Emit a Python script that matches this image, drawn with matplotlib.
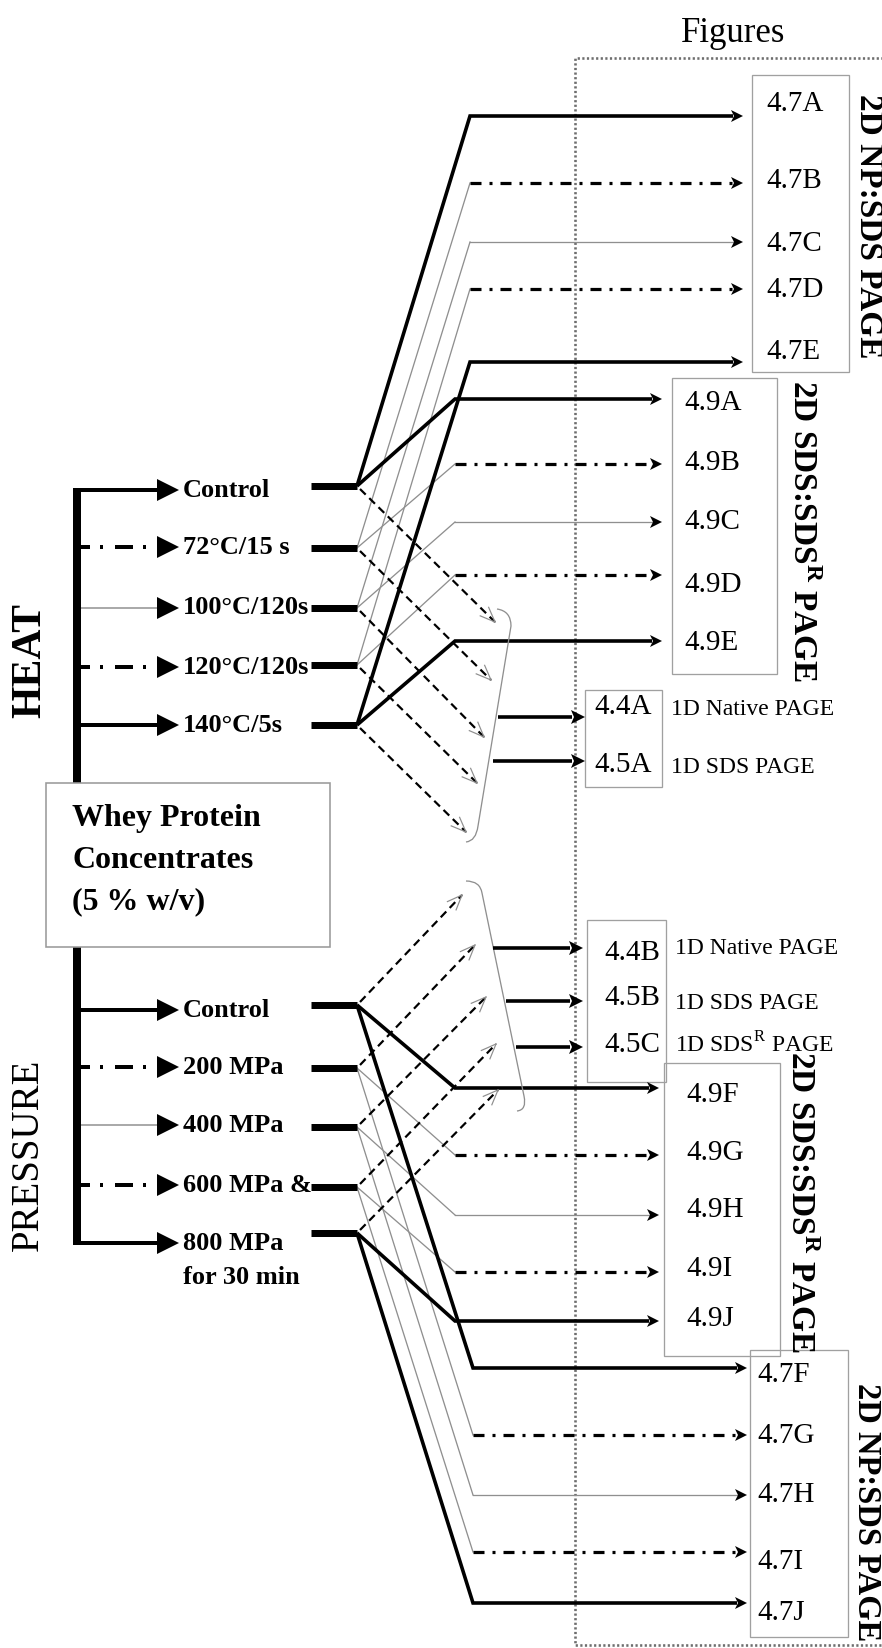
import math
import matplotlib
matplotlib.use('Agg')
import matplotlib.pyplot as plt
from matplotlib.patches import Polygon, Rectangle, PathPatch
from matplotlib.path import Path

plt.rcParams['font.family'] = ['Liberation Serif', 'DejaVu Serif']
plt.rcParams['mathtext.fontset'] = 'custom'
plt.rcParams['mathtext.rm'] = 'Liberation Serif'
plt.rcParams['mathtext.bf'] = 'Liberation Serif:bold'
plt.rcParams['lines.scale_dashes'] = False

# ---------------- data ----------------
title = 'Figures'
material_lines = ['Whey Protein', 'Concentrates', '(5 % w/v)']

heat_title = 'HEAT'
heat_labels = ['Control', '72°C/15 s', '100°C/120s', '120°C/120s', '140°C/5s']
heat_styles = ['thick', 'dashdot', 'thin', 'dashdot', 'thick']
heat_arrow_y = [490, 547, 608, 667, 725]
heat_bar_y = [486, 548, 608, 665, 725]
heat_np_labels = ['4.7A', '4.7B', '4.7C', '4.7D', '4.7E']
heat_np_y = [116, 183, 242, 289, 362]
heat_np_text_y = [104, 181, 244, 290, 352]
heat_sds_labels = ['4.9A', '4.9B', '4.9C', '4.9D', '4.9E']
heat_sds_y = [399, 464, 522, 575, 641]
heat_sds_text_y = [403, 463, 522, 585, 643]
heat_fan_tips = [(495, 622), (491, 680), (484, 737), (477, 783), (466, 832)]
heat_1d_labels = ['4.4A', '4.5A']
heat_1d_names = ['1D Native PAGE', '1D SDS PAGE']
heat_1d_y = [717, 761]
heat_1d_text_y = [707, 765]
heat_1d_start_x = [498, 493]

pressure_title = 'PRESSURE'
pressure_labels = ['Control', '200 MPa', '400 MPa', '600 MPa &', '800 MPa']
pressure_note = 'for 30 min'
pressure_styles = ['thick', 'dashdot', 'thin', 'dashdot', 'thick']
pressure_arrow_y = [1010, 1067, 1125, 1185, 1243]
pressure_bar_y = [1005, 1068, 1127, 1187, 1233]
pressure_sds_labels = ['4.9F', '4.9G', '4.9H', '4.9I', '4.9J']
pressure_sds_y = [1088, 1155, 1215, 1272, 1321]
pressure_sds_text_y = [1095, 1153, 1210, 1269, 1319]
pressure_np_labels = ['4.7F', '4.7G', '4.7H', '4.7I', '4.7J']
pressure_np_y = [1368, 1435, 1495, 1552, 1603]
pressure_np_text_y = [1375, 1436, 1495, 1562, 1613]
pressure_fan_tips = [(462, 895), (475, 945), (486, 997), (496, 1044), (498, 1090)]
pressure_1d_labels = ['4.4B', '4.5B', '4.5C']
pressure_1d_names = ['1D Native PAGE', '1D SDS PAGE', '1D SDS$^{\\mathrm{R}}$ PAGE']
pressure_1d_y = [948, 1001, 1047]
pressure_1d_text_y = [953, 998, 1045]
pressure_1d_name_y = [948, 1003, 1045]
pressure_1d_start_x = [493, 506, 516]

np_group_label = '2D NP:SDS PAGE'
sds_group_label = '2D SDS:SDS$^{\\mathbf{R}}$ PAGE'

# ---------------- figure ----------------
W, H = 882, 1648
PX = 72 / 100.0  # points per pixel
fig = plt.figure(figsize=(W / 100, H / 100), dpi=100)
ax = fig.add_axes([0, 0, 1, 1])
ax.set_xlim(0, W)
ax.set_ylim(H, 0)
ax.axis('off')

GRAY = '#8f8f8f'
BOXC = '#a0a0a0'


def line(xs, ys, kind, z=3):
    if kind == 'thick':
        ax.plot(xs, ys, color='black', lw=3.6 * PX, solid_joinstyle='miter',
                solid_capstyle='butt', zorder=z)
    elif kind == 'thin':
        ax.plot(xs, ys, color=GRAY, lw=1.3 * PX, zorder=z - 1)
    elif kind == 'dashdot':
        ax.plot(xs, ys, color='black', lw=3.2 * PX,
                dashes=(11 * PX, 8 * PX, 3 * PX, 8 * PX), dash_capstyle='butt', zorder=z)
    elif kind == 'dashed':
        ax.plot(xs, ys, color='black', lw=2.2 * PX, dashes=(8 * PX, 5 * PX),
                dash_capstyle='butt', zorder=z)


def head(x, y, L=12, hw=6, notch=3, z=5):
    ax.add_patch(Polygon([(x, y), (x - L, y - hw), (x - L + notch, y), (x - L, y + hw)],
                         closed=True, fc='black', ec='none', zorder=z))


def open_head(sx, sy, tx, ty, L=16, ang=22):
    a = math.atan2(sy - ty, sx - tx)
    for s in (1, -1):
        b = a + s * math.radians(ang)
        ax.plot([tx, tx + L * math.cos(b)], [ty, ty + L * math.sin(b)],
                color=GRAY, lw=1.2 * PX, zorder=4)


def box(x0, y0, x1, y1, z=2, fc='none', ec=BOXC, lw=1.3):
    ax.add_patch(Rectangle((x0, y0), x1 - x0, y1 - y0, fc=fc, ec=ec, lw=lw * PX, zorder=z))


SPINE_X = 77
LEFT_HEAD_TIP = 179
LABEL_X = 183
BAR_X0, JX = 311, 357


def left_branches(labels, styles, arrow_y, bar_y):
    for lab, st, ay, by in zip(labels, styles, arrow_y, bar_y):
        x0, x1 = SPINE_X + 4, LEFT_HEAD_TIP - 20
        if st == 'thick':
            ax.plot([x0, x1], [ay, ay], color='black', lw=4 * PX, solid_capstyle='butt', zorder=3)
        elif st == 'thin':
            ax.plot([x0, x1], [ay, ay], color=GRAY, lw=1.5 * PX, zorder=3)
        else:
            ax.plot([x0, x1 + 2], [ay, ay], color='black', lw=4 * PX,
                    dashes=(9 * PX, 10 * PX, 3 * PX, 12 * PX, 18 * PX, 10 * PX, 3 * PX, 12 * PX),
                    dash_capstyle='butt', zorder=3)
        head(LEFT_HEAD_TIP, ay, L=22, hw=11, notch=0)
        ax.text(LABEL_X, ay, lab, fontsize=19, fontweight='bold', ha='left', va='center', zorder=6)
        ax.plot([BAR_X0, JX], [by, by], color='black', lw=7 * PX, solid_capstyle='butt', zorder=4)


def branch(jy, ty, cx, tip, st):
    if st == 'thick':
        line([JX, cx, tip - 10], [jy, ty, ty], 'thick')
    else:
        line([JX, cx], [jy, ty], 'thin')
        line([cx, tip - 10], [ty, ty], st)
    head(tip, ty)


# dotted "Figures" frame
ax.plot([W + 5, 575, 575, W + 5], [58, 58, 1645, 1645], color='#6e6e6e', lw=2.6 * PX,
        dashes=(2.2 * PX, 2.4 * PX), zorder=1)
ax.text(733, 33, title, fontsize=25, ha='center', va='center')

# spine
ax.plot([SPINE_X, SPINE_X], [heat_arrow_y[0] - 2, pressure_arrow_y[-1] + 2], color='black',
        lw=8 * PX, solid_capstyle='butt', zorder=4)

# material box
box(46, 783, 330, 947, z=6, fc='white', ec='#9a9a9a', lw=1.6)
for k, t in enumerate(material_lines):
    ax.text(72, 818 + 42 * k, t, fontsize=23, fontweight='bold', ha='left', va='center', zorder=7)

ax.text(30, 660, heat_title, fontsize=30, fontweight='bold', rotation=90, ha='center', va='center')
ax.text(28, 1155, pressure_title, fontsize=28, rotation=90, ha='center', va='center')

# ---------------- HEAT ----------------
left_branches(heat_labels, heat_styles, heat_arrow_y, heat_bar_y)
for i, st in enumerate(heat_styles):
    jy = heat_bar_y[i]
    branch(jy, heat_np_y[i], 470, 743, st)
    branch(jy, heat_sds_y[i], 455, 662, st)
    tx, ty = heat_fan_tips[i]
    line([JX + 3, tx], [jy + 3, ty], 'dashed')
    open_head(JX, jy, tx, ty)

box(752, 75, 849, 372)
for lab, ty in zip(heat_np_labels, heat_np_text_y):
    ax.text(766, ty, lab, fontsize=21, ha='left', va='center')
box(672, 378, 777, 674)
for lab, ty in zip(heat_sds_labels, heat_sds_text_y):
    ax.text(684, ty, lab, fontsize=21, ha='left', va='center')
ax.text(868, 226, np_group_label, fontsize=24, fontweight='bold', rotation=-90,
        ha='center', va='center')
ax.text(802, 531, sds_group_label, fontsize=24, fontweight='bold', rotation=-90,
        ha='center', va='center')

# heat bracket
hb = Path([(497, 609), (511, 611), (511, 626), (478, 826), (476, 841), (466, 842)],
          [Path.MOVETO, Path.CURVE3, Path.CURVE3, Path.LINETO, Path.CURVE3, Path.CURVE3])
ax.add_patch(PathPatch(hb, fc='none', ec=GRAY, lw=1.3 * PX, zorder=3))
for y, x0 in zip(heat_1d_y, heat_1d_start_x):
    line([x0, 572], [y, y], 'thick')
    head(585, y, L=14, hw=7, notch=3)
box(585, 690, 662, 787)
for lab, name, y in zip(heat_1d_labels, heat_1d_names, heat_1d_text_y):
    ax.text(594, y, lab, fontsize=21, ha='left', va='center')
    ax.text(671, y + 2, name, fontsize=17, ha='left', va='center')

# ---------------- PRESSURE ----------------
left_branches(pressure_labels, pressure_styles, pressure_arrow_y, pressure_bar_y)
ax.text(LABEL_X, 1278, pressure_note, fontsize=19, fontweight='bold', ha='left', va='center')
for i, st in enumerate(pressure_styles):
    jy = pressure_bar_y[i]
    branch(jy, pressure_sds_y[i], 455, 659, st)
    branch(jy, pressure_np_y[i], 473, 747, st)
    tx, ty = pressure_fan_tips[i]
    line([JX + 3, tx], [jy - 3, ty], 'dashed')
    open_head(JX, jy, tx, ty)

pb = Path([(466, 881), (480, 881), (482, 893), (524, 1096), (527, 1110), (517, 1111)],
          [Path.MOVETO, Path.CURVE3, Path.CURVE3, Path.LINETO, Path.CURVE3, Path.CURVE3])
ax.add_patch(PathPatch(pb, fc='none', ec=GRAY, lw=1.3 * PX, zorder=3))
for y, x0 in zip(pressure_1d_y, pressure_1d_start_x):
    line([x0, 570], [y, y], 'thick')
    head(583, y, L=14, hw=7, notch=3)
box(587, 920, 666, 1082)
for lab, name, ty, ny in zip(pressure_1d_labels, pressure_1d_names,
                             pressure_1d_text_y, pressure_1d_name_y):
    ax.text(660, ty, lab, fontsize=21, ha='right', va='center')
    ax.text(675, ny, name, fontsize=17, ha='left', va='center')

box(664, 1063, 780, 1356)
for lab, ty in zip(pressure_sds_labels, pressure_sds_text_y):
    ax.text(686, ty, lab, fontsize=21, ha='left', va='center')
box(750, 1350, 848, 1637)
for lab, ty in zip(pressure_np_labels, pressure_np_text_y):
    ax.text(757, ty, lab, fontsize=21, ha='left', va='center')
ax.text(800, 1202, sds_group_label, fontsize=24, fontweight='bold', rotation=-90,
        ha='center', va='center')
ax.text(866, 1512, np_group_label, fontsize=23.5, fontweight='bold', rotation=-90,
        ha='center', va='center')

fig.savefig('out.png', dpi=100)
